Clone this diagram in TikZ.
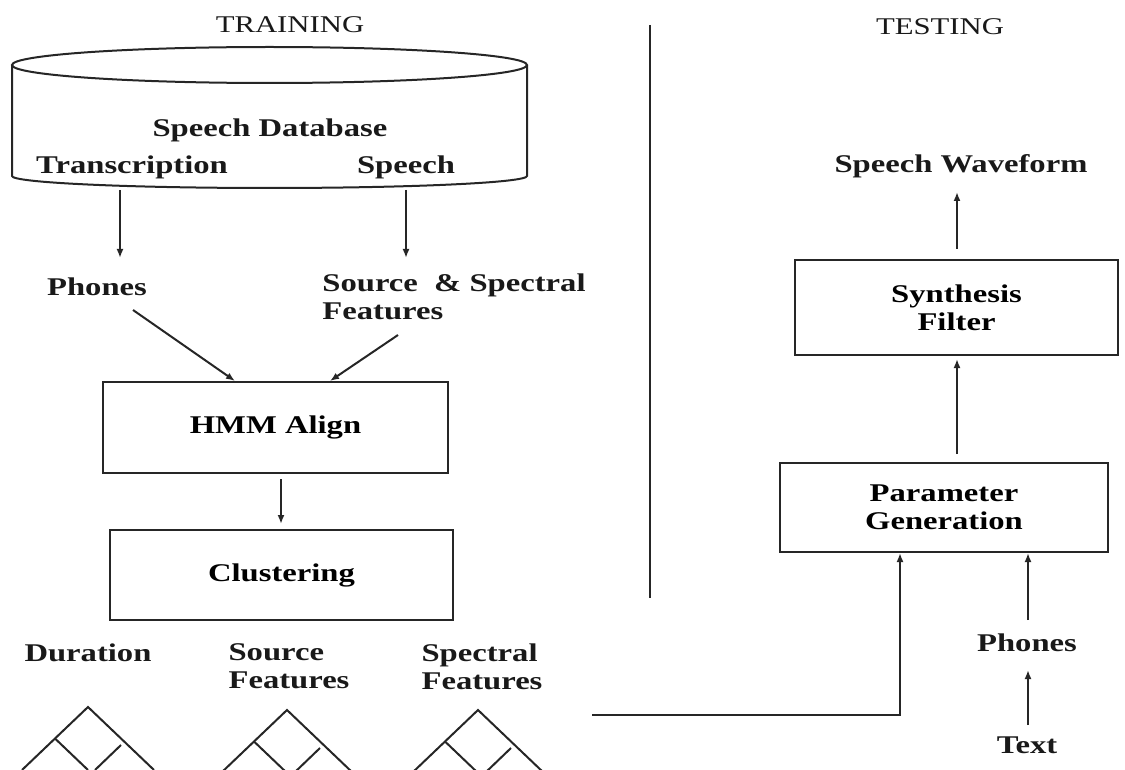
\documentclass[tikz,border=0pt]{standalone}
\usepackage{fontspec}
\setmainfont{Liberation Serif}[FakeStretch=1.28]
\usetikzlibrary{arrows.meta}
\tikzset{
  lbl/.style={font=\fontsize{25.5}{28}\selectfont\bfseries, inner sep=0pt, align=center, text=black!90},
  head/.style={font=\fontsize{24}{26}\selectfont, inner sep=0pt, text=black!90},
  box/.style={draw=black!85, line width=2pt, inner sep=0pt, font=\fontsize{25.5}{28}\selectfont\bfseries, align=center},
  ln/.style={draw=black!85, line width=2pt},
  arr/.style={ln, -{Latex[length=9pt,width=7pt]}},
  tree/.pic={
    \draw[ln] (-66,-63) -- (0,0) -- (66,-63);
    \draw[ln] (-33,-31.5) -- (0,-63);
    \draw[ln] (7,-63) -- (33,-38);
  }
}
\begin{document}
\begin{tikzpicture}[x=1pt,y=1pt]
\useasboundingbox (0,0) rectangle (1125,-770);
% headings and divider
\node[head] (train) at (290,-25) {TRAINING};
\node[head] (test) at (940,-27) {TESTING};
\coordinate (divtop) at (650,-25);
\coordinate (divbot) at (650,-598);
\draw[ln] (divtop) -- (divbot);
% database cylinder
\draw[ln] (269.5,-65) ellipse [x radius=257.5, y radius=18];
\draw[ln] (12,-65) -- (12,-176) arc [start angle=180, end angle=360, x radius=257.5, y radius=12] -- (527,-65);
\node[lbl] (db) at (270,-130) {Speech Database};
\node[lbl] (trans) at (132,-167) {Transcription};
\node[lbl] (sp) at (406,-167) {Speech};
% training flow
\node[lbl] (ph) at (97,-287) {Phones};
\node[lbl, align=left] (feat) at (454,-297) {Source\ \ \& Spectral\\Features};
\node[box, minimum width=345pt, minimum height=91pt] (hmm) at (275.5,-427.5) {HMM Align};
\node[box, minimum width=343pt, minimum height=90pt] (clus) at (281.5,-575) {Clustering};
\coordinate (t1) at (120,-190);
\coordinate (t1e) at (120,-258);
\coordinate (s1) at (406,-190);
\coordinate (s1e) at (406,-258);
\draw[arr] (t1) -- (t1e);
\draw[arr] (s1) -- (s1e);
\coordinate (p1) at (133,-310);
\coordinate (f1) at (398,-335);
\draw[arr] (p1) -- ([xshift=-40.5pt]hmm.north);
\draw[arr] (f1) -- ([xshift=54.5pt]hmm.north);
\draw[arr] ([xshift=5.5pt,yshift=-5pt]hmm.south) -- ([xshift=-0.5pt,yshift=5pt]clus.north);
% trees
\node[lbl] (dur) at (88,-653) {Duration};
\node[lbl, align=left] (srcf) at (289,-666.5) {Source\\Features};
\node[lbl, align=left] (spcf) at (482,-666.5) {Spectral\\Features};
\pic at (88,-707) {tree};
\pic at (287,-710) {tree};
\pic at (478,-710) {tree};
% testing flow
\node[box, minimum width=328pt, minimum height=89pt] (pg) at (944,-507.5) {Parameter\\Generation};
\node[box, minimum width=323pt, minimum height=95pt] (sf) at (956.5,-307.5) {Synthesis\\Filter};
\node[lbl] (wave) at (961,-166) {Speech Waveform};
\node[lbl] (ph2) at (1027,-643) {Phones};
\node[lbl] (txt) at (1027,-745) {Text};
\coordinate (lstart) at (592,-715);
\coordinate (lcorner) at (900,-715);
\draw[arr] (lstart) -- (lcorner) -- (lcorner |- pg.south);
\draw[arr] ([xshift=13pt,yshift=8pt]pg.north) -- ([xshift=0.5pt,yshift=-3pt]sf.south);
\coordinate (wavebot) at (957,-192);
\draw[arr] ([xshift=0.5pt,yshift=10pt]sf.north) -- (wavebot);
\coordinate (ph2top) at (1028,-620);
\coordinate (txttop) at (1028,-725);
\coordinate (ph2bot) at (1028,-670);
\draw[arr] (ph2top) -- (ph2top |- pg.south);
\draw[arr] (txttop) -- (ph2bot);
\end{tikzpicture}
\end{document}
